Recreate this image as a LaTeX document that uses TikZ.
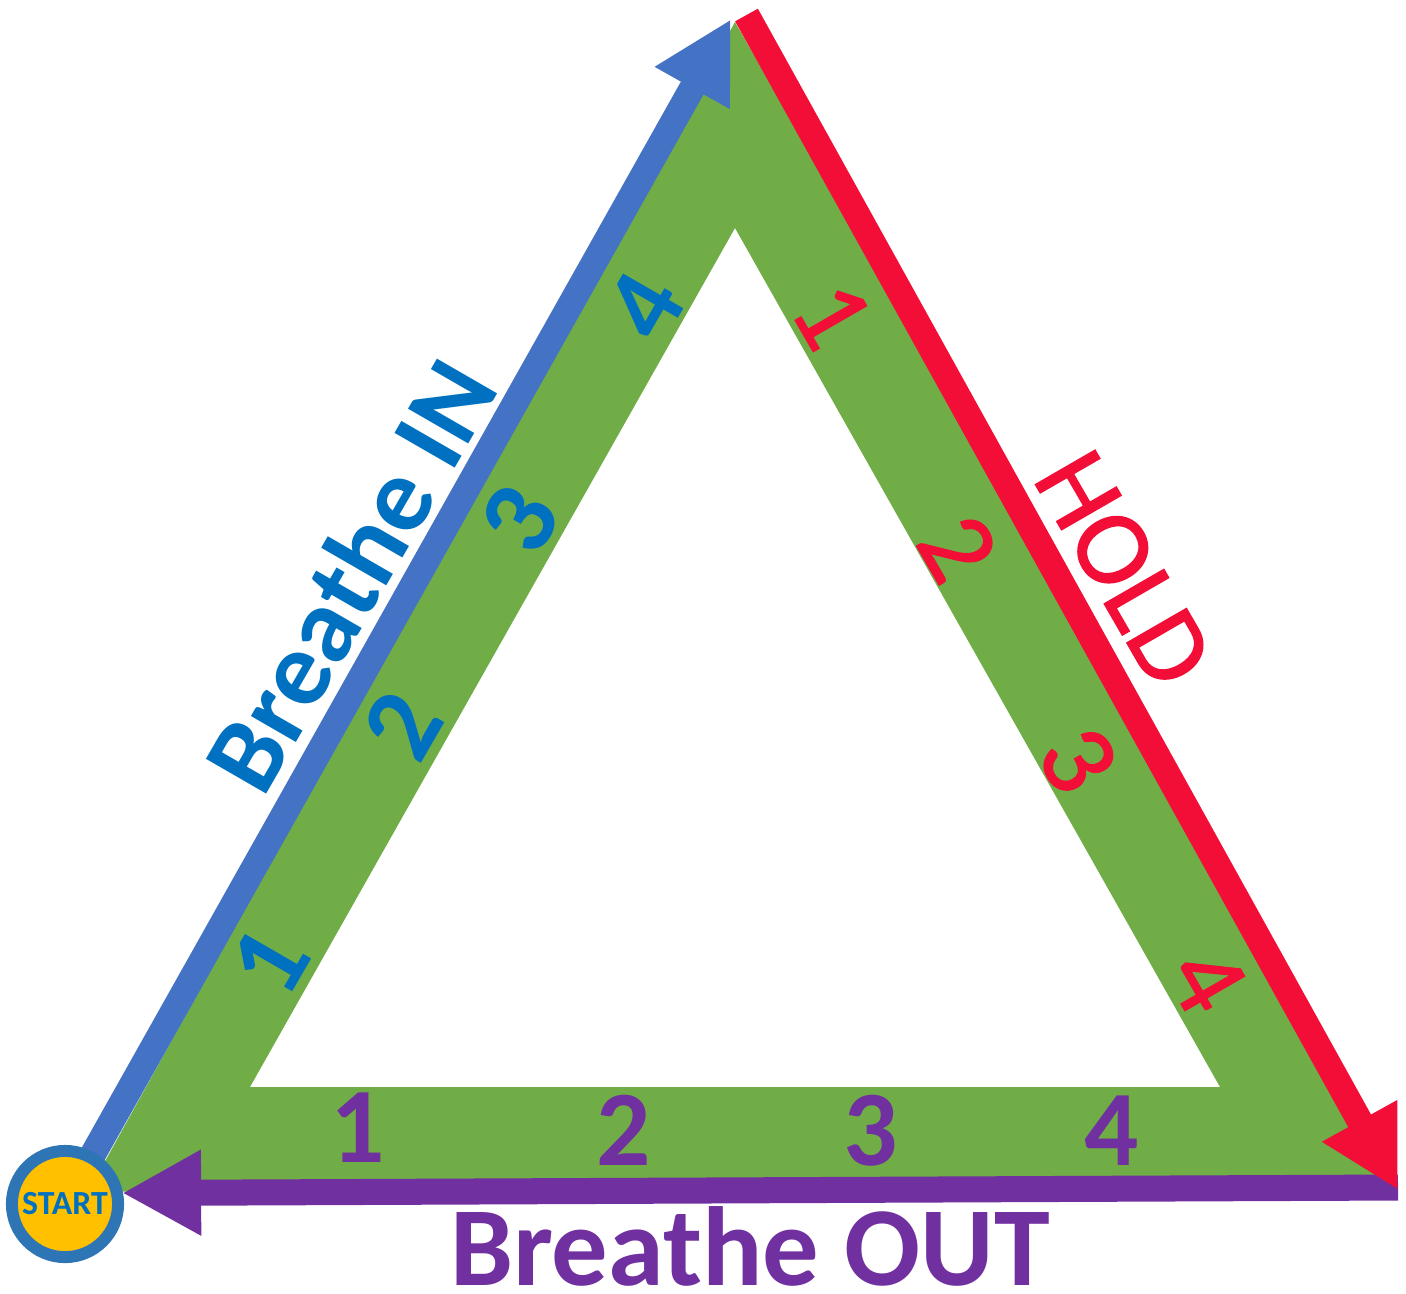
\documentclass[tikz,border=0pt]{standalone}
\usepackage{fontspec}
\setmainfont{Carlito}
\newfontfamily\medfont[FakeBold=1.3]{Carlito}
\usetikzlibrary{arrows.meta}
\definecolor{gband}{HTML}{70AD47}
\definecolor{inarrow}{HTML}{4472C4}
\definecolor{intext}{HTML}{0070C0}
\definecolor{holdred}{HTML}{F20E37}
\definecolor{outpurple}{HTML}{7030A0}
\definecolor{startfill}{HTML}{FFC000}
\definecolor{startline}{HTML}{2E75B6}
\begin{document}
\begin{tikzpicture}[x=0.01cm,y=-0.01cm,
  band/.style={line width=7.4pt, line cap=butt, -{Triangle[length=22.5pt,width=22.8pt]}},
  bigb/.style={font=\bfseries\fontsize{30.5}{36}\selectfont, inner sep=0pt},
  bigr/.style={font=\medfont\fontsize{30.5}{36}\selectfont, inner sep=0pt},
  startnode/.style={circle, fill=startfill, draw=startline, line width=3.4pt,
    minimum size=30.2pt, inner sep=0pt, text=intext,
    font=\bfseries\fontsize{9.6}{11}\selectfont}]
\useasboundingbox (0,0) rectangle (1406,1293);
% green triangular band
\coordinate (gT) at (735,22);
\coordinate (gL) at (88,1192);
\coordinate (gR) at (1397,1181);
\coordinate (iT) at (735,228);
\coordinate (iL) at (250,1087);
\coordinate (iR) at (1220,1087);
\fill[gband, even odd rule] (gT)--(gL)--(gR)--cycle (iT)--(iL)--(iR)--cycle;
% arrow end points
\coordinate (sc) at (65,1204);
\coordinate (inE) at (731,19);
\coordinate (holdS) at (746.5,15);
\coordinate (holdE) at (1398,1190);
\coordinate (outS) at (1398,1187.5);
\coordinate (outE) at (122,1193);
\draw[band, outpurple] (outS) -- (outE);
\draw[band, inarrow] (sc) -- (inE);
\draw[band, holdred] (holdS) -- (holdE);
\node[startnode] (start) at (sc) {START};
% labels
\node[bigb, intext, rotate=60, anchor=base] (lin) at (382,594) {Breathe IN};
\node[bigr, holdred, rotate=-60, anchor=base] (lhold) at (1094,586) {HOLD};
\node[bigb, outpurple, anchor=base, font=\bfseries\fontsize{32}{38}\selectfont] (lout) at (750,1285) {Breathe OUT};
% counts
\node[bigb, intext, rotate=60] (b1) at (270,962) {1};
\node[bigb, intext, rotate=60] (b2) at (403,725) {2};
\node[bigb, intext, rotate=60] (b3) at (520,520) {3};
\node[bigb, intext, rotate=60] (b4) at (645,307) {4};
\node[bigr, holdred, rotate=-60] (r1) at (832,315) {1};
\node[bigr, holdred, rotate=-60] (r2) at (958,548) {2};
\node[bigr, holdred, rotate=-60] (r3) at (1078,760) {3};
\node[bigr, holdred, rotate=-60] (r4) at (1207,980) {4};
\node[bigb, outpurple] (p1) at (358,1128) {1};
\node[bigb, outpurple] (p2) at (624,1130) {2};
\node[bigb, outpurple] (p3) at (871,1131) {3};
\node[bigb, outpurple] (p4) at (1112,1131) {4};
\end{tikzpicture}
\end{document}
